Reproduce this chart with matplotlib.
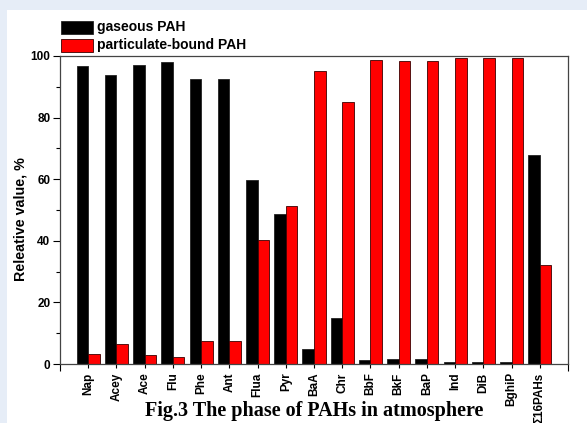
import numpy as np
import matplotlib
matplotlib.use("Agg")
import matplotlib.pyplot as plt
from matplotlib.patches import Rectangle

# data
compounds = ["Nap", "Acey", "Ace", "Flu", "Phe", "Ant", "Flua", "Pyr", "BaA",
             "Chr", "BbF", "BkF", "BaP", "Ind", "DiB", "BghiP", "\u03a316PAHs"]
gaseous = [96.9, 93.7, 97.2, 98.0, 92.6, 92.6, 59.8, 48.7, 4.8,
           15.0, 1.4, 1.7, 1.6, 0.6, 0.6, 0.6, 67.9]
particulate = [3.2, 6.4, 2.9, 2.3, 7.4, 7.4, 40.4, 51.4, 95.1,
               85.0, 98.6, 98.3, 98.4, 99.4, 99.3, 99.3, 32.1]

plt.rcParams['font.family'] = ['Liberation Sans', 'DejaVu Sans']

fig = plt.figure(figsize=(5.87, 4.23), dpi=100)
fig.patch.set_facecolor("white")
# light blue frame at top and left
fig.patches.append(Rectangle((0, 1 - 10 / 423), 1, 10 / 423, transform=fig.transFigure,
                             facecolor="#e6edf7", edgecolor="none", zorder=0))
fig.patches.append(Rectangle((0, 0), 7 / 587, 1, transform=fig.transFigure,
                             facecolor="#e6edf7", edgecolor="none", zorder=0))

ax = fig.add_axes([60 / 587, 1 - 364 / 423, 508 / 587, 308 / 423])
x = np.arange(1, len(compounds) + 1)
w = 0.41
ax.bar(x - w / 2, gaseous, w, color="black", edgecolor="#222222", linewidth=0.6)
ax.bar(x + w / 2, particulate, w, color="#ff0000", edgecolor="#3a0000", linewidth=0.6)

ax.set_xlim(0, 18)
ax.set_ylim(0, 100)
ax.set_xticks(x)
ax.set_xticklabels(compounds, rotation=90, fontsize=8.5, fontweight="bold")
ax.set_xticks([0, 18], minor=True)
ax.tick_params(axis="x", which="major", direction="out", length=3, width=0.8, pad=3)
ax.tick_params(axis="x", which="minor", direction="out", length=5, width=0.8)
ax.set_yticks([0, 20, 40, 60, 80, 100])
ax.set_yticks([10, 30, 50, 70, 90], minor=True)
ax.tick_params(axis="y", which="major", direction="out", length=5, width=0.8, labelsize=8.5, pad=2)
ax.tick_params(axis="y", which="minor", direction="out", length=3, width=0.8)
for t in ax.get_yticklabels():
    t.set_fontweight("bold")
for s in ax.spines.values():
    s.set_color("#444444")
    s.set_linewidth(0.9)

ax.set_ylabel("Releative value, %", fontsize=10.3, fontweight="bold", va="center")
ax.yaxis.set_label_coords(-0.077, 0.469)

# legend drawn above the axes
fig.patches.append(Rectangle((61 / 587, 1 - 34 / 423), 32 / 587, 13 / 423, transform=fig.transFigure,
                             facecolor="black", edgecolor="#222222", linewidth=0.6))
fig.patches.append(Rectangle((61 / 587, 1 - 52 / 423), 32 / 587, 13 / 423, transform=fig.transFigure,
                             facecolor="#ff0000", edgecolor="#3a0000", linewidth=0.6))
fig.text(97 / 587, 1 - 27.5 / 423, "gaseous PAH", fontsize=10, fontweight="bold", va="center")
fig.text(97 / 587, 1 - 45.5 / 423, "particulate-bound PAH", fontsize=10, fontweight="bold", va="center")

fig.text(314 / 587, 1 - 416 / 423, "Fig.3 The phase of PAHs in atmosphere", family="Liberation Serif",
         fontsize=14.5, fontweight="bold", ha="center", va="baseline")

fig.savefig("out.png", dpi=100)
